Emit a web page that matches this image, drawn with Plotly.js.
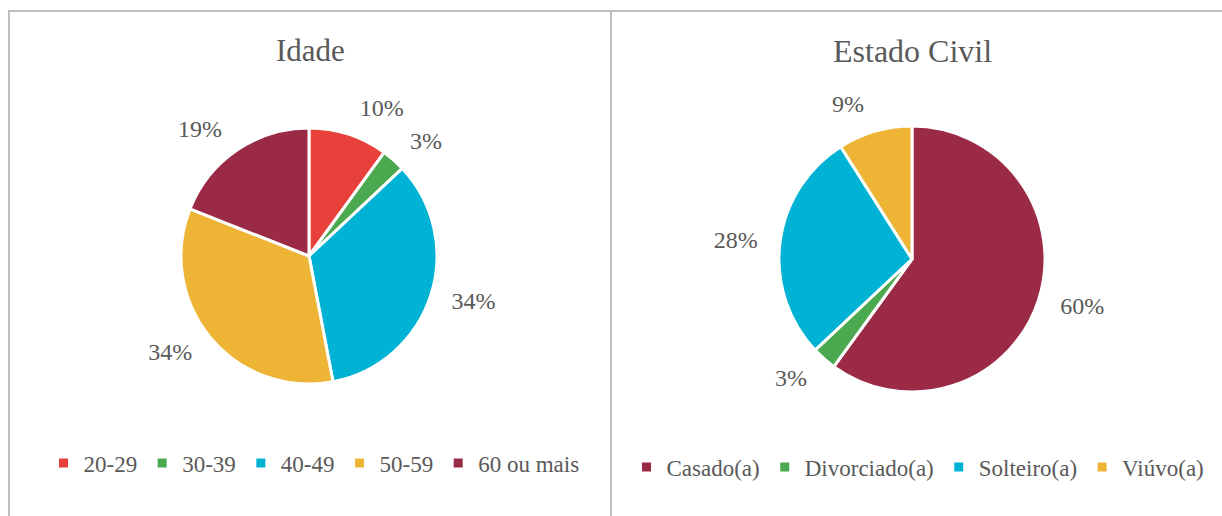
<!DOCTYPE html>
<html>
<head>
<meta charset="utf-8">
<script src="https://cdn.plot.ly/plotly-3.0.1.min.js"></script>
<style>html,body{margin:0;padding:0;background:#fff;}#chart{width:1222px;height:516px;}</style>
</head>
<body>
<div id="chart"></div>
<script>
const idadeLabels = ["20-29", "30-39", "40-49", "50-59", "60 ou mais"];
const idadeValues = [10, 3, 34, 34, 19];
const idadeColors = ["#E8413B", "#4BA94F", "#00B2D3", "#EDB436", "#9B2A47"];

const civilLabels = ["Casado(a)", "Divorciado(a)", "Solteiro(a)", "Viúvo(a)"];
const civilValues = [60, 3, 28, 9];
const civilColors = ["#9B2A47", "#4BA94F", "#00B2D3", "#EDB436"];

const W = 1222, H = 516;
const fx = px => px / W;
const fy = py => 1 - py / H;
const FONT = "'Liberation Serif', 'Times New Roman', serif";
const GRAY = "#595959";

// pie geometry in pixels: centre x, centre y, radius
const pies = [
  {cx: 309, cy: 256, r: 128, labelPad: 15},
  {cx: 912, cy: 259, r: 133, labelPad: 16}
];
function dom(p, extra) {
  const r = p.r + extra;
  return {x: [fx(p.cx - r), fx(p.cx + r)], y: [fy(p.cy + r), fy(p.cy - r)]};
}

function pieTrace(labels, values, colors, p, legendName) {
  return {
    type: "pie", labels: labels, values: values, sort: false,
    direction: "clockwise", rotation: 0,
    marker: {colors: colors, line: {color: "#ffffff", width: 3}},
    textinfo: "none",
    domain: dom(p, 0),
    legend: legendName, hoverinfo: "label+percent"
  };
}
function labelTrace(labels, values, p) {
  return {
    type: "pie", labels: labels, values: values, sort: false,
    direction: "clockwise", rotation: 0,
    marker: {colors: labels.map(() => "rgba(0,0,0,0)"), line: {width: 0}},
    textinfo: "percent", textposition: "outside",
    textfont: {family: FONT, size: 24, color: GRAY},
    domain: dom(p, p.labelPad),
    showlegend: false, hoverinfo: "skip"
  };
}

const traces = [
  pieTrace(idadeLabels, idadeValues, idadeColors, pies[0], "legend"),
  pieTrace(civilLabels, civilValues, civilColors, pies[1], "legend2"),
  labelTrace(idadeLabels, idadeValues, pies[0]),
  labelTrace(civilLabels, civilValues, pies[1])
];

const lineStyle = {color: "#BFBFBF", width: 2};
const layout = {
  width: W, height: H,
  margin: {l: 0, r: 0, t: 0, b: 0},
  paper_bgcolor: "#ffffff",
  font: {family: FONT, color: GRAY},
  showlegend: true,
  legend: {
    orientation: "h", x: fx(314), xanchor: "center", y: fy(463), yanchor: "middle",
    font: {family: FONT, size: 23, color: GRAY}, itemclick: false, traceorder: "normal",
    itemwidth: 30
  },
  legend2: {
    orientation: "h", x: fx(918), xanchor: "center", y: fy(467), yanchor: "middle",
    font: {family: FONT, size: 23, color: GRAY}, itemclick: false, traceorder: "normal",
    itemwidth: 30
  },
  annotations: [
    {text: "Idade", x: fx(310), y: fy(51), xref: "paper", yref: "paper", showarrow: false,
     font: {family: FONT, size: 31, color: GRAY}, xanchor: "center", yanchor: "middle"},
    {text: "Estado Civil", x: fx(912), y: fy(51), xref: "paper", yref: "paper", showarrow: false,
     font: {family: FONT, size: 32, color: GRAY}, xanchor: "center", yanchor: "middle"}
  ],
  shapes: [
    {type: "line", xref: "paper", yref: "paper", x0: fx(8), x1: 1, y0: fy(11), y1: fy(11), line: lineStyle},
    {type: "line", xref: "paper", yref: "paper", x0: fx(9), x1: fx(9), y0: fy(11), y1: 0, line: lineStyle},
    {type: "line", xref: "paper", yref: "paper", x0: fx(611), x1: fx(611), y0: fy(11), y1: 0, line: lineStyle}
  ]
};

Plotly.newPlot("chart", traces, layout, {displayModeBar: false, staticPlot: true});
</script>
</body>
</html>
